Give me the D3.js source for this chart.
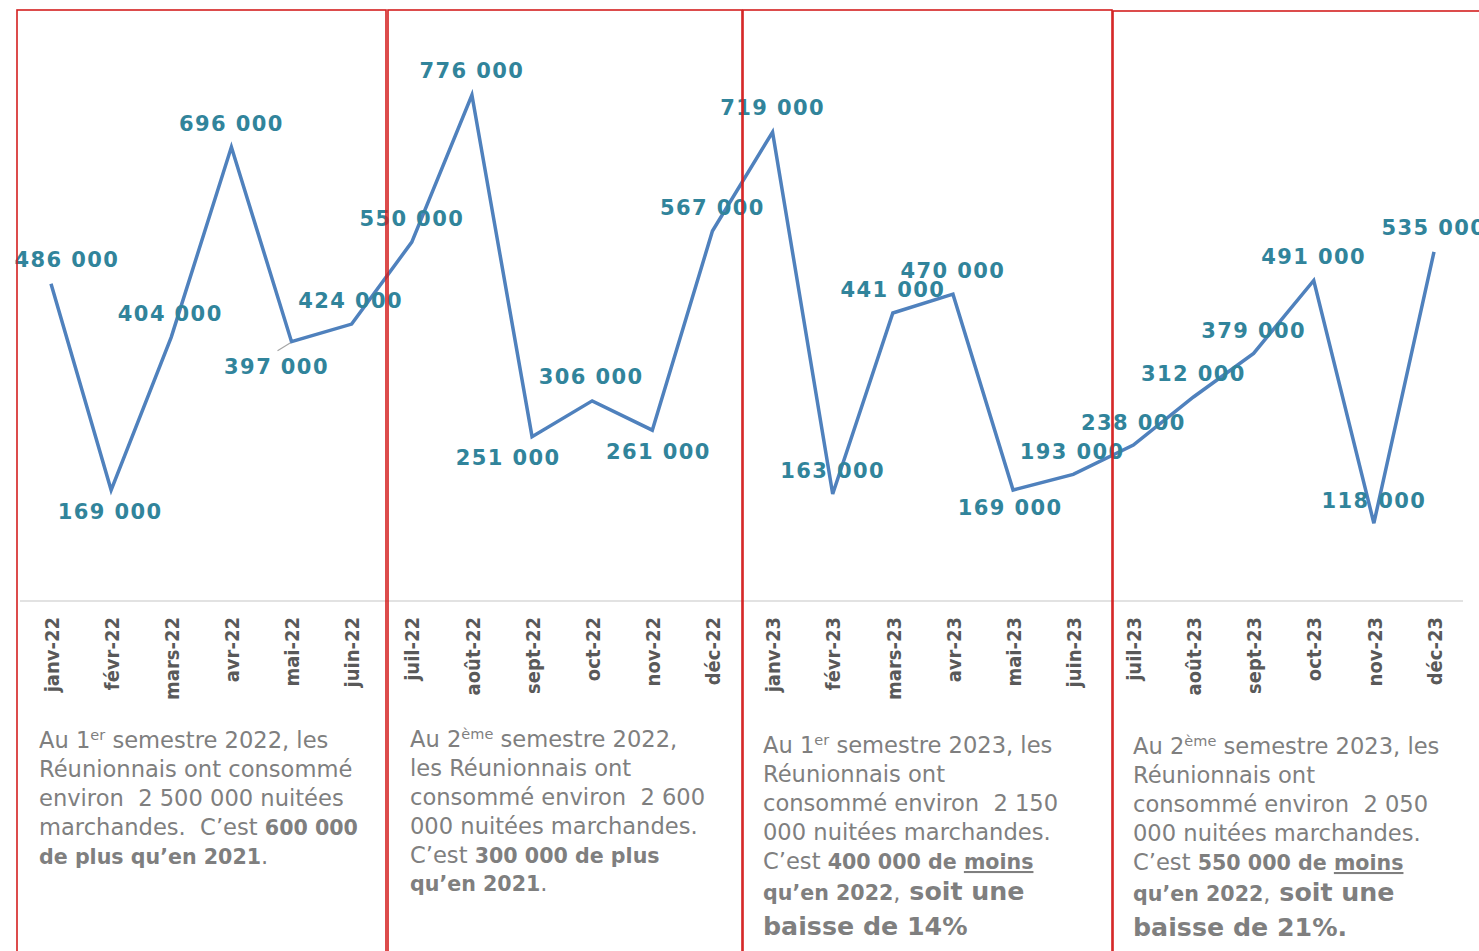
<!DOCTYPE html>
<html>
<head>
<meta charset="utf-8">
<script src="https://cdn.jsdelivr.net/npm/d3@7"></script>
<style>
  body { margin: 0; background: #fff; }
  svg { display: block; }
</style>
</head>
<body>
<svg id="chart" width="1479" height="951"></svg>
<script>
// monthly nights consumed by Réunion residents
const months = ["janv-22","févr-22","mars-22","avr-22","mai-22","juin-22",
                "juil-22","août-22","sept-22","oct-22","nov-22","déc-22",
                "janv-23","févr-23","mars-23","avr-23","mai-23","juin-23",
                "juil-23","août-23","sept-23","oct-23","nov-23","déc-23"];
const nuitees = [486000,169000,404000,696000,397000,424000,
                 550000,776000,251000,306000,261000,567000,
                 719000,163000,441000,470000,169000,193000,
                 238000,312000,379000,491000,118000,535000];

// where each data label sits relative to its point (px)
const labelOffsets = [[16,-24],[-1,21],[-1,-24],[0,-24],[-15,25],[-1,-24],
                      [0,-24],[0,-25],[-24,21],[-1,-24],[6,21],[0,-24],
                      [0,-25],[0,-23],[0,-24],[0,-24],[-3,17],[-1,-23],
                      [0,-23],[0,-24],[0,-23],[0,-24],[0,-23],[0,-24]];

// semester commentary: [text, style] segments per line
// n = normal, s = superscript, b = bold, u = bold underlined, B = big bold
const notes = [
  { x: 39, y: 748, lines: [
    [["Au 1","n"],["er","s"],[" semestre 2022, les","n"]],
    [["Réunionnais ont consommé","n"]],
    [["environ  2 500 000 nuitées","n"]],
    [["marchandes.  C’est ","n"],["600 000","b"]],
    [["de plus qu’en 2021","b"],[".","n"]]
  ], steps: [29,29,29,29] },
  { x: 410, y: 747, lines: [
    [["Au 2","n"],["ème","s"],[" semestre 2022,","n"]],
    [["les Réunionnais ont","n"]],
    [["consommé environ  2 600","n"]],
    [["000 nuitées marchandes.","n"]],
    [["C’est ","n"],["300 000 de plus","b"]],
    [["qu’en 2021","b"],[".","n"]]
  ], steps: [29,29,29,29,28] },
  { x: 763, y: 753, lines: [
    [["Au 1","n"],["er","s"],[" semestre 2023, les","n"]],
    [["Réunionnais ont","n"]],
    [["consommé environ  2 150","n"]],
    [["000 nuitées marchandes.","n"]],
    [["C’est ","n"],["400 000 de ","b"],["moins","u"]],
    [["qu’en 2022","b"],[",","n"],[" soit une","B"]],
    [["baisse de 14%","B"]]
  ], steps: [29,29,29,29,31,35] },
  { x: 1133, y: 754, lines: [
    [["Au 2","n"],["ème","s"],[" semestre 2023, les","n"]],
    [["Réunionnais ont","n"]],
    [["consommé environ  2 050","n"]],
    [["000 nuitées marchandes.","n"]],
    [["C’est ","n"],["550 000 de ","b"],["moins","u"]],
    [["qu’en 2022","b"],[",","n"],[" soit une","B"]],
    [["baisse de 21%.","B"]]
  ], steps: [29,29,29,29,31,35] }
];

// semester frames [left, right, top]
const frames = [[17,386,10],[388,742,10],[743,1112,10],[1113,1490,11]];

const svg = d3.select("#chart");
const fr = d3.formatLocale({decimal: ",", thousands: " ", grouping: [3], currency: ["", " €"]});
const fmt = fr.format(",");

const x = d3.scalePoint().domain(months).range([51, 1434]);
const y = d3.scaleLinear().domain([0, 800000]).range([600, 79.4]);

// category axis
const xAxis = d3.axisBottom(x).tickSize(0).tickPadding(0);
const gx = svg.append("g").attr("transform", "translate(0,601)").call(xAxis);
gx.select(".domain").remove();
gx.append("line")
  .attr("x1", 20).attr("x2", 1463)
  .attr("stroke", "#d9d9d9").attr("stroke-width", 1.5);
gx.selectAll(".tick text")
  .attr("transform", "rotate(-90)")
  .attr("x", -16)
  .attr("y", 0)
  .attr("dy", "0.36em")
  .attr("text-anchor", "end")
  .attr("fill", "#595959")
  .style("font-family", "'DejaVu Sans Condensed', 'DejaVu Sans', sans-serif")
  .style("font-weight", "bold")
  .style("font-size", "20px");

// the line itself
const line = d3.line()
  .x((d, i) => x(months[i]))
  .y(d => y(d));

svg.append("path")
  .datum(nuitees)
  .attr("d", line)
  .attr("fill", "none")
  .attr("stroke", "#4f81bd")
  .attr("stroke-width", 3.5)
  .attr("stroke-linejoin", "miter");

// leader line for the 397 000 label
svg.append("line")
  .attr("x1", x(months[4]) - 1).attr("y1", y(nuitees[4]) + 1)
  .attr("x2", x(months[4]) - 14).attr("y2", y(nuitees[4]) + 9)
  .attr("stroke", "#a6a6a6").attr("stroke-width", 1.2);

// data labels
svg.append("g").selectAll("text")
  .data(nuitees)
  .join("text")
  .attr("x", (d, i) => x(months[i]) + labelOffsets[i][0])
  .attr("y", (d, i) => y(d) + labelOffsets[i][1])
  .attr("dy", "0.36em")
  .attr("text-anchor", "middle")
  .attr("fill", "#31849b")
  .style("font-family", "'DejaVu Sans', Verdana, sans-serif")
  .style("font-weight", "bold")
  .style("font-size", "21px")
  .style("letter-spacing", "1.4px")
  .text(d => fmt(d));

// red semester frames
svg.append("g").selectAll("rect")
  .data(frames)
  .join("rect")
  .attr("x", d => d[0])
  .attr("y", d => d[2])
  .attr("width", d => d[1] - d[0])
  .attr("height", 1000)
  .attr("fill", "none")
  .attr("stroke", "#d42020")
  .attr("stroke-width", 1.6);

// commentary
const styleOf = {
  n: { w: "normal", s: 22.6, dec: "none" },
  s: { w: "normal", s: 14.5, dec: "none" },
  b: { w: "bold", s: 20.6, dec: "none" },
  u: { w: "bold", s: 20.6, dec: "underline" },
  B: { w: "bold", s: 25.3, dec: "none" }
};

notes.forEach(note => {
  let yy = note.y;
  note.lines.forEach((segs, li) => {
    const t = svg.append("text")
      .attr("x", note.x).attr("y", yy)
      .attr("fill", "#7f7f7f")
      .style("font-family", "'DejaVu Sans', sans-serif");
    segs.forEach((sg, k) => {
      const st = styleOf[sg[1]];
      const prev = k > 0 ? segs[k - 1][1] : null;
      let dy = 0;
      if (sg[1] === "s") dy = -8;
      else if (prev === "s") dy = 8;
      t.append("tspan")
        .attr("dy", dy)
        .style("font-weight", st.w)
        .style("font-size", st.s + "px")
        .style("text-decoration", st.dec)
        .style("white-space", "pre")
        .text(sg[0]);
    });
    if (li < note.steps.length) yy += note.steps[li];
  });
});
</script>
</body>
</html>
